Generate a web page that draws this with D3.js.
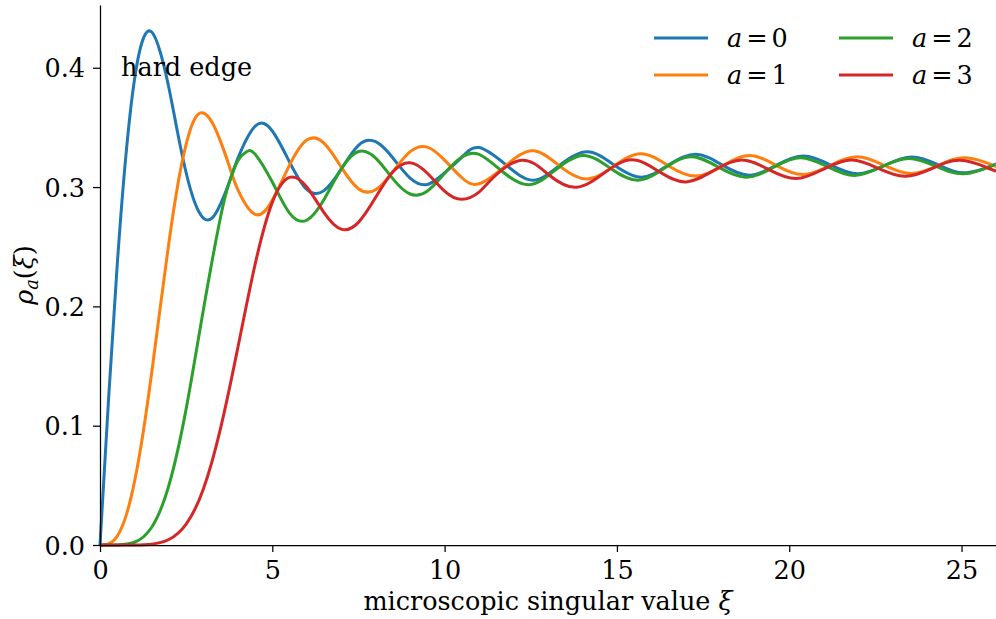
<!DOCTYPE html>
<html><head><meta charset="utf-8">
<script src="https://cdn.jsdelivr.net/npm/d3@7"></script>
<style>body{margin:0;background:#fff} svg{display:block}</style>
</head><body>
<svg id="chart" width="996" height="619"></svg>
<script>
// ---- data ----
const aValues = [0, 1, 2, 3];
const seriesColors = ["#1f77b4", "#ff7f0e", "#2ca02c", "#d62728"];

const xi_a0 = [0,0.25,0.5,0.75,1,1.25,1.5,1.75,2,2.25,2.5,2.75,3,3.25,3.5,3.75,4,4.5,5,5.5,6,6.5,7,7.5,8,8.5,9,9.5,10,10.5,11,11.78,12.57,13.35,14.14,14.92,15.71,16.49,17.28,18.06,18.85,19.63,20.42,21.21,21.99,22.78,23.56,24.35,25.13,25.92,26];
const rho_a0 = [0,0.123,0.235,0.326,0.390,0.424,0.430,0.413,0.383,0.346,0.312,0.287,0.274,0.274,0.286,0.304,0.324,0.351,0.347,0.321,0.298,0.297,0.315,0.335,0.338,0.3244,0.3075,0.3022,0.3119,0.3250,0.3331,0.3186,0.3058,0.3185,0.3296,0.3185,0.3083,0.3184,0.3275,0.3184,0.3100,0.3184,0.3261,0.3184,0.3111,0.3183,0.3252,0.3183,0.3120,0.3183,0.3193];

const xi_a1 = [0,0.25,0.5,0.75,1,1.25,1.5,1.75,2,2.25,2.5,2.75,3,3.25,3.5,3.75,4,4.5,5,5.5,6,6.5,7,7.5,8,8.5,9,9.5,10,10.5,11,11.75,12.55,13.34,14.13,14.92,15.70,16.49,17.28,18.07,18.86,19.63,20.40,21.19,21.98,22.76,23.54,24.33,25.13,25.92,26];
const rho_a1 = [0,0.001,0.0075,0.024,0.0529,0.0939,0.1444,0.1996,0.2536,0.3007,0.3359,0.3573,0.3621,0.3543,0.3381,0.3176,0.2979,0.2772,0.2890,0.3184,0.3394,0.3368,0.3167,0.2986,0.2978,0.3130,0.3297,0.3335,0.3226,0.3078,0.3028,0.3174,0.3304,0.3176,0.3068,0.3178,0.3280,0.3179,0.3092,0.3179,0.3264,0.3180,0.3105,0.3180,0.3254,0.3181,0.3113,0.3181,0.3246,0.3181,0.3172];

const xi_a2 = [0,0.5,1,1.5,2,2.5,3,3.5,3.75,4,4.25,4.5,5,5.5,6,6.5,7,7.5,8,8.5,9,9.5,10,10.5,11,11.64,12.44,13.24,14.03,14.82,15.61,16.39,17.16,17.96,18.76,19.55,20.33,21.12,21.90,22.69,23.47,24.27,25.07,25.85,26];
const rho_a2 = [0,0.0001,0.0023,0.0149,0.0501,0.1141,0.1972,0.2751,0.3038,0.3220,0.3296,0.3276,0.3042,0.2782,0.2722,0.2895,0.3152,0.3298,0.3243,0.3069,0.2942,0.2967,0.3115,0.3252,0.3274,0.3139,0.3020,0.3149,0.3265,0.3156,0.3058,0.3161,0.3255,0.3165,0.3083,0.3167,0.3246,0.3170,0.3098,0.3171,0.3240,0.3173,0.3111,0.3174,0.3191];

const xi_a3 = [0,0.5,1,1.5,2,2.5,3,3.5,4,4.5,5,5.5,6,6.5,7,7.5,8,8.5,9,9.5,10,10.5,11,11.4,12.24,13.03,13.82,14.63,15.43,16.22,17.0,17.81,18.62,19.41,20.2,21.0,21.81,22.59,23.37,24.17,24.96,25.75,26];
const rho_a3 = [0,0,0.00005,0.0007,0.0046,0.0175,0.0470,0.0980,0.1654,0.2351,0.2872,0.3081,0.3001,0.2786,0.2647,0.2704,0.2914,0.3128,0.3204,0.3116,0.2966,0.2897,0.2958,0.3076,0.3225,0.3101,0.2998,0.3118,0.3228,0.3130,0.3043,0.3139,0.3227,0.3146,0.3071,0.3151,0.3227,0.3156,0.3090,0.3159,0.3224,0.3162,0.3133];

const xTickValues = [0, 5, 10, 15, 20, 25];
const yTickValues = [0.0, 0.1, 0.2, 0.3, 0.4];
const xDomain = [0, 26];
const yDomain = [0, 0.4526];

// ---- drawing ----
const svg = d3.select("#chart");
const plotL = 100, plotR = 996, plotT = 5, plotB = 545;
const x = d3.scaleLinear().domain(xDomain).range([plotL, plotR]);
const y = d3.scaleLinear().domain(yDomain).range([plotB, plotT]);

const series = [
  {a: aValues[0], xs: xi_a0, ys: rho_a0, color: seriesColors[0]},
  {a: aValues[1], xs: xi_a1, ys: rho_a1, color: seriesColors[1]},
  {a: aValues[2], xs: xi_a2, ys: rho_a2, color: seriesColors[2]},
  {a: aValues[3], xs: xi_a3, ys: rho_a3, color: seriesColors[3]}
];

const line = d3.line().x(d => x(d[0])).y(d => y(d[1])).curve(d3.curveNatural);

svg.append("g").selectAll("path").data(series).join("path")
  .attr("d", s => line(s.xs.map((v, i) => [v, s.ys[i]])))
  .attr("fill", "none")
  .attr("stroke", s => s.color)
  .attr("stroke-width", 3)
  .attr("stroke-linejoin", "round")
  .attr("stroke-linecap", "butt");

const serif = "'DejaVu Serif', serif";
const fs = 25.5;

// x axis
const gx = svg.append("g").attr("transform", `translate(0,${plotB})`)
  .call(d3.axisBottom(x).tickValues(xTickValues).tickSize(7).tickSizeOuter(0).tickFormat(d3.format("d")));
gx.select(".domain").attr("stroke", "#000").attr("stroke-width", 1.25);
gx.selectAll(".tick line").attr("stroke", "#000").attr("stroke-width", 1.25);
gx.selectAll(".tick text").attr("font-family", serif).attr("font-size", fs)
  .attr("fill", "#000").attr("y", 34).attr("dy", 0);

// y axis
const gy = svg.append("g").attr("transform", `translate(${plotL},0)`)
  .call(d3.axisLeft(y).tickValues(yTickValues).tickSize(7).tickSizeOuter(0).tickFormat(d3.format(".1f")));
gy.select(".domain").attr("stroke", "#000").attr("stroke-width", 1.25);
gy.selectAll(".tick line").attr("stroke", "#000").attr("stroke-width", 1.25);
gy.selectAll(".tick text").attr("font-family", serif).attr("font-size", fs)
  .attr("fill", "#000").attr("x", -15).attr("dy", "0.36em");

// x label
const xl = svg.append("text").attr("x", (plotL + plotR) / 2).attr("y", 610)
  .attr("text-anchor", "middle").attr("font-family", serif).attr("font-size", fs).attr("fill", "#000");
xl.append("tspan").text("microscopic singular value ");
xl.append("tspan").attr("font-style", "italic").text("ξ");

// y label
const yl = svg.append("text").attr("transform", `translate(33,${(plotT + plotB) / 2}) rotate(-90)`)
  .attr("text-anchor", "middle").attr("font-family", serif).attr("font-size", fs).attr("fill", "#000");
yl.append("tspan").attr("font-style", "italic").text("ρ");
yl.append("tspan").attr("font-style", "italic").attr("font-size", fs * 0.7).attr("dy", 5).text("a");
yl.append("tspan").attr("dy", -5).text("(");
yl.append("tspan").attr("font-style", "italic").text("ξ");
yl.append("tspan").text(")");

// annotation
svg.append("text").attr("x", 121).attr("y", 76).attr("font-family", serif)
  .attr("font-size", fs).attr("fill", "#000").text("hard edge");

// legend (2 columns, filled column-wise)
const leg = svg.append("g");
series.forEach((s, i) => {
  const col = Math.floor(i / 2), row = i % 2;
  const lx = 654 + col * 185, ly = 38 + row * 37;
  leg.append("line").attr("x1", lx).attr("x2", lx + 54).attr("y1", ly).attr("y2", ly)
    .attr("stroke", s.color).attr("stroke-width", 3);
  const t = leg.append("text").attr("x", lx + 73).attr("y", ly + 9)
    .attr("font-family", serif).attr("font-size", fs).attr("fill", "#000");
  t.append("tspan").attr("font-style", "italic").text("a");
  t.append("tspan").attr("dx", 4).text("=");
  t.append("tspan").attr("dx", 4).text(String(s.a));
});
</script>
</body></html>
